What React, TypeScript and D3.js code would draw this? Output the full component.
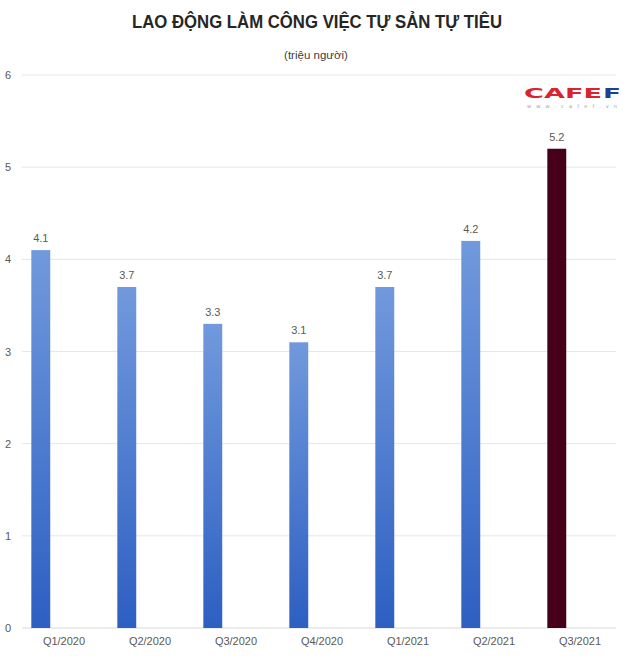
import * as d3 from "d3";

const categories = ["Q1/2020", "Q2/2020", "Q3/2020", "Q4/2020", "Q1/2021", "Q2/2021", "Q3/2021"];
const values = [4.1, 3.7, 3.3, 3.1, 3.7, 4.2, 5.2];
const yTicks = [0, 1, 2, 3, 4, 5, 6];
const highlight = "Q3/2021";

const W = 630;
const H = 656;

export default function App() {
  const x = d3.scaleBand<string>().domain(categories).range([21, 623]);
  const y = d3.scaleLinear().domain([0, 6]).range([628, 75]);
  const bw = x.bandwidth();
  const font = "'Liberation Sans', Arial, sans-serif";

  return (
    <svg
      width={W}
      height={H}
      style={{ position: "absolute", left: 0, top: 0, background: "#fff" }}
      fontFamily={font}
    >
      <defs>
        <linearGradient id="blueGrad" x1="0" y1="0" x2="0" y2="1">
          <stop offset="0%" stopColor="#7199dc" />
          <stop offset="100%" stopColor="#2d5fc2" />
        </linearGradient>
      </defs>
      <rect width={W} height={H} fill="#fff" />

      <text
        x={317}
        y={28}
        textAnchor="middle"
        fontSize={19}
        fontWeight="bold"
        fill="#262626"
        textLength={370}
        lengthAdjust="spacingAndGlyphs"
      >
        LAO ĐỘNG LÀM CÔNG VIỆC TỰ SẢN TỰ TIÊU
      </text>
      <text x={316} y={59} textAnchor="middle" fontSize={11.5} fill="#404040">
        (triệu người)
      </text>

      {yTicks.map((t) => (
        <g key={t}>
          <line x1={22} x2={616} y1={y(t)} y2={y(t)} stroke={t === 0 ? "#d9d9d9" : "#e6e6e6"} strokeWidth={1} />
          <text x={8} y={y(t) + 4} fontSize={11} fill="#595959" textAnchor="middle">
            {t}
          </text>
        </g>
      ))}

      {categories.map((c, i) => {
        const bx = (x(c) ?? 0) + bw * 0.12;
        const bwid = bw * 0.22;
        return (
          <g key={c}>
            <rect
              x={bx}
              y={y(values[i])}
              width={bwid}
              height={y(0) - y(values[i])}
              fill={c === highlight ? "#46001a" : "url(#blueGrad)"}
            />
            <text
              x={bx + bwid / 2}
              y={y(values[i]) - 8}
              textAnchor="middle"
              fontSize={11}
              fill="#595959"
            >
              {values[i]}
            </text>
            <text
              x={(x(c) ?? 0) + bw / 2}
              y={645}
              textAnchor="middle"
              fontSize={11}
              fill="#595959"
            >
              {c}
            </text>
          </g>
        );
      })}

      <g fontFamily="'DejaVu Sans', sans-serif">
        <text
          x={524}
          y={98}
          fontSize={14}
          fontWeight="bold"
          fill="#d9232e"
          textLength={78}
          lengthAdjust="spacingAndGlyphs"
        >
          CAFE
        </text>
        <text
          x={603}
          y={98}
          fontSize={14}
          fontWeight="bold"
          fill="#1f3f93"
          textLength={18}
          lengthAdjust="spacingAndGlyphs"
        >
          F
        </text>
        <text
          x={527}
          y={108}
          fontSize={5}
          fill="#9a9a9a"
          textLength={90}
          lengthAdjust="spacing"
        >
          www.cafef.vn
        </text>
      </g>
    </svg>
  );
}
